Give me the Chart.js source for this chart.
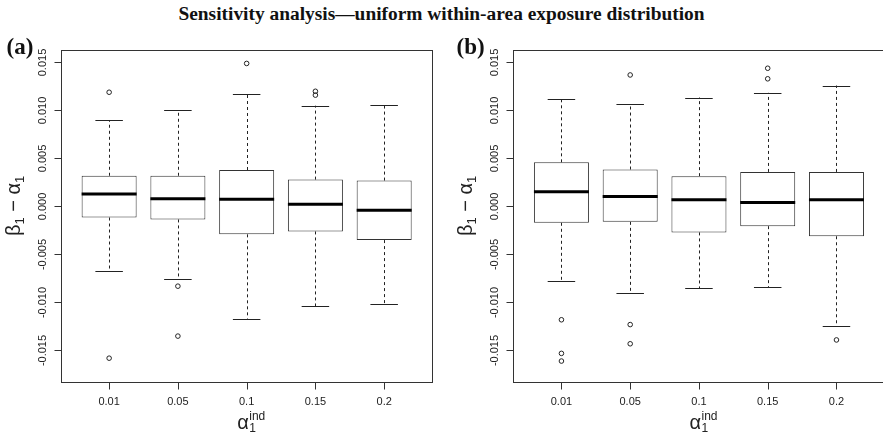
<!DOCTYPE html>
<html>
<head>
<meta charset="utf-8">
<script src="https://cdn.jsdelivr.net/npm/chart.js@4.4.0/dist/chart.umd.min.js"></script>
<style>
html,body{margin:0;padding:0;background:#fff;}
body{width:883px;height:435px;overflow:hidden;position:relative;}
#title{position:absolute;left:0;top:4px;width:883px;text-align:center;font:bold 19.4px "Liberation Serif",serif;line-height:20px;color:#111;}
#wa{position:absolute;left:0;top:0;width:441px;height:435px;}
#wb{position:absolute;left:441px;top:0;width:460px;height:435px;}
canvas{display:block;}
</style>
</head>
<body>
<div id="title">Sensitivity analysis—uniform within-area exposure distribution</div>
<div id="wa"><canvas id="chartA"></canvas></div>
<div id="wb"><canvas id="chartB"></canvas></div>
<script>
// categories and axis ticks
const categories = ['0.01', '0.05', '0.1', '0.15', '0.2'];
const yTickValues = [-0.015, -0.010, -0.005, 0, 0.005, 0.010, 0.015];
const yTickLabels = ['-0.015', '-0.010', '-0.005', '0.000', '0.005', '0.010', '0.015'];

// panel (a)
const aLow = [-0.0067, -0.0076, -0.0117, -0.0104, -0.0102];
const aQ1 = [-0.00115, -0.00135, -0.0029, -0.0026, -0.0035];
const aMedian = [0.0013, 0.0008, 0.00076, 0.00024, -0.0004];
const aQ3 = [0.0032, 0.0032, 0.0038, 0.0028, 0.0027];
const aHigh = [0.0090, 0.0100, 0.0117, 0.0105, 0.0106];
const aOutliers = [[0.0119, -0.0158], [-0.0083, -0.0135], [0.0149], [0.0120, 0.0116], []];

// panel (b)
const bLow = [-0.0078, -0.0090, -0.0085, -0.0084, -0.0124];
const bQ1 = [-0.0017, -0.0016, -0.0027, -0.00205, -0.0031];
const bMedian = [0.00153, 0.00104, 0.00069, 0.00042, 0.00069];
const bQ3 = [0.0046, 0.00385, 0.00316, 0.0036, 0.0036];
const bHigh = [0.01115, 0.01063, 0.01135, 0.01184, 0.0126];
const bOutliers = [[-0.0118, -0.0153, -0.0161], [0.0137, -0.0123, -0.0143], [], [0.0144, 0.0133], [-0.0139]];

const INK = '#222';
const SANS = '"Liberation Sans", Arial, sans-serif';
const SERIF = '"Liberation Serif", "Times New Roman", serif';

// whiskers, medians, frame, ticks and labels
const boxExtras = {
    id: 'boxExtras',
    afterDatasetsDraw(chart, args, opts) {
        const ctx = chart.ctx, xs = chart.scales.x, ys = chart.scales.y;
        ctx.save();
        ctx.strokeStyle = INK;
        categories.forEach((c, i) => {
            const x = Math.round(xs.getPixelForValue(i + 1)) + 0.5;
            const xl = xs.getPixelForValue(i + 1 - 0.2), xr = xs.getPixelForValue(i + 1 + 0.2);
            // dashed whiskers
            ctx.lineWidth = 1;
            ctx.setLineDash([3, 3]);
            ctx.beginPath();
            ctx.moveTo(x, ys.getPixelForValue(opts.q3[i]));
            ctx.lineTo(x, ys.getPixelForValue(opts.high[i]));
            ctx.moveTo(x, ys.getPixelForValue(opts.q1[i]));
            ctx.lineTo(x, ys.getPixelForValue(opts.low[i]));
            ctx.stroke();
            ctx.setLineDash([]);
            // staples
            ctx.beginPath();
            let yh = Math.round(ys.getPixelForValue(opts.high[i])) + 0.5;
            let yl = Math.round(ys.getPixelForValue(opts.low[i])) + 0.5;
            ctx.moveTo(xl, yh); ctx.lineTo(xr, yh);
            ctx.moveTo(xl, yl); ctx.lineTo(xr, yl);
            ctx.stroke();
            // median
            const bl = xs.getPixelForValue(i + 1 - 0.4), br = xs.getPixelForValue(i + 1 + 0.4);
            const ym = ys.getPixelForValue(opts.median[i]);
            ctx.strokeStyle = '#000';
            ctx.lineWidth = 3;
            ctx.beginPath();
            ctx.moveTo(bl, ym); ctx.lineTo(br, ym);
            ctx.stroke();
            ctx.strokeStyle = INK;
        });
        ctx.restore();
    },
    afterDraw(chart, args, opts) {
        const ctx = chart.ctx, xs = chart.scales.x, ys = chart.scales.y;
        const a = chart.chartArea;
        ctx.save();
        ctx.strokeStyle = '#333';
        ctx.lineWidth = 1;
        const L = Math.round(a.left) + 0.5, T = Math.round(a.top) + 0.5;
        const R = Math.round(a.right) + 0.5, B = Math.round(a.bottom) + 0.5;
        ctx.strokeRect(L, T, R - L, B - T);

        // y ticks
        ctx.fillStyle = '#222';
        ctx.font = '11px ' + SANS;
        yTickValues.forEach((v, i) => {
            const y = Math.round(ys.getPixelForValue(v)) + 0.5;
            ctx.beginPath(); ctx.moveTo(L - 7, y); ctx.lineTo(L, y); ctx.stroke();
            ctx.save();
            ctx.translate(a.left - 18.5, ys.getPixelForValue(v));
            ctx.rotate(-Math.PI / 2);
            ctx.textAlign = 'center'; ctx.textBaseline = 'middle';
            ctx.fillText(yTickLabels[i], 0, 0);
            ctx.restore();
        });
        // x ticks
        categories.forEach((c, i) => {
            const x = Math.round(xs.getPixelForValue(i + 1)) + 0.5;
            ctx.beginPath(); ctx.moveTo(x, B); ctx.lineTo(x, B + 7); ctx.stroke();
            ctx.textAlign = 'center'; ctx.textBaseline = 'middle';
            ctx.fillText(c, xs.getPixelForValue(i + 1), a.bottom + 20.5);
        });

        // x title: alpha_1^ind
        const cx = (a.left + a.right) / 2;
        ctx.textAlign = 'left'; ctx.textBaseline = 'alphabetic';
        ctx.font = '20px ' + SANS;
        ctx.fillText('α', cx - 9.5, a.bottom + 47.3);
        const aw = ctx.measureText('α').width;
        ctx.font = '12px ' + SANS;
        ctx.fillText('ind', cx - 9.5 + aw + 0.5, a.bottom + 38.5);
        ctx.fillText('1', cx - 9.5 + aw + 0.5, a.bottom + 50.5);

        // y title: beta_1 - alpha_1
        const cy = (a.top + a.bottom) / 2;
        const parts = [['β', 20, 0], ['1', 13, 4], [' − ', 20, 0], ['α', 20, 0], ['1', 13, 4]];
        let W = 0;
        parts.forEach(p => { ctx.font = p[1] + 'px ' + SANS; W += ctx.measureText(p[0]).width; });
        ctx.save();
        ctx.translate(a.left - 41, cy);
        ctx.rotate(-Math.PI / 2);
        let px = 10 - W / 2;
        parts.forEach(p => {
            ctx.font = p[1] + 'px ' + SANS;
            ctx.fillText(p[0], px, p[2]);
            px += ctx.measureText(p[0]).width;
        });
        ctx.restore();

        // panel label
        ctx.font = 'bold 23px ' + SERIF;
        ctx.fillStyle = '#111';
        ctx.fillText(opts.label, opts.labelX, 53.5);
        ctx.restore();
    }
};

function makeChart(id, label, labelX, low, q1, median, q3, high, outliers, padding) {
    const boxData = categories.map((c, i) => ({x: i + 1, y: [q1[i], q3[i]]}));
    const outData = [];
    outliers.forEach((list, i) => list.forEach(v => outData.push({x: i + 1, y: v})));
    return new Chart(document.getElementById(id), {
        type: 'bar',
        data: {
            datasets: [
                {
                    type: 'bar',
                    data: boxData,
                    backgroundColor: '#fff',
                    borderColor: '#333',
                    borderWidth: 1,
                    borderSkipped: false,
                    categoryPercentage: 1,
                    barPercentage: 0.8
                },
                {
                    type: 'scatter',
                    data: outData,
                    pointStyle: 'circle',
                    pointRadius: 2.3,
                    pointBorderWidth: 1,
                    pointBorderColor: '#222',
                    pointBackgroundColor: 'rgba(255,255,255,0)'
                }
            ]
        },
        options: {
            responsive: false,
            animation: false,
            devicePixelRatio: 1,
            layout: {padding: padding},
            plugins: {
                legend: {display: false},
                tooltip: {enabled: false},
                boxExtras: {label: label, labelX: labelX, low: low, q1: q1, median: median, q3: q3, high: high}
            },
            scales: {
                x: {
                    type: 'linear', min: 0.3, max: 5.7, offset: false, display: false,
                    afterBuildTicks: s => { s.ticks = categories.map((c, i) => ({value: i + 1})); }
                },
                y: {type: 'linear', min: -0.01825, max: 0.0163, display: false}
            }
        },
        plugins: [boxExtras]
    });
}

const cA = document.getElementById('chartA');
cA.width = 441; cA.height = 435;
const cB = document.getElementById('chartB');
cB.width = 460; cB.height = 435;

makeChart('chartA', '(a)', 6.5, aLow, aQ1, aMedian, aQ3, aHigh, aOutliers,
    {left: 61, top: 50, right: 8.7, bottom: 53.3});
makeChart('chartB', '(b)', 15.5, bLow, bQ1, bMedian, bQ3, bHigh, bOutliers,
    {left: 72.3, top: 50, right: 16.4, bottom: 53.3});
</script>
</body>
</html>
